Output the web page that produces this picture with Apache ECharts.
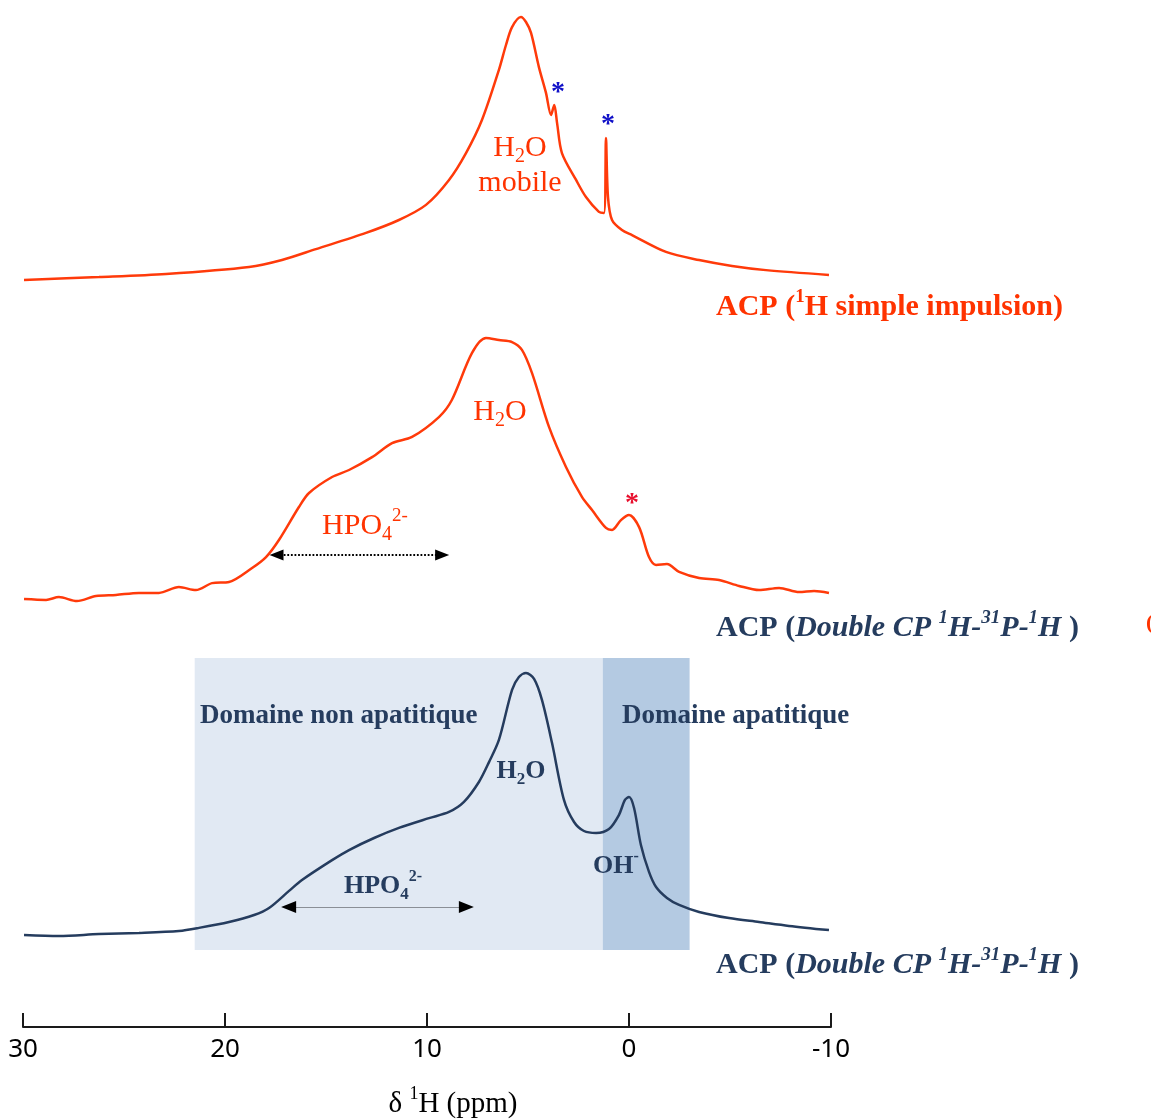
<!DOCTYPE html>
<html>
<head>
<meta charset="utf-8">
<script src="https://cdn.jsdelivr.net/npm/echarts@6/dist/echarts.min.js"></script>
<style>
html,body{margin:0;padding:0;background:#fff;}
#chart{width:1151px;height:1120px;}
</style>
</head>
<body>
<div id="chart"></div>
<script>
// ---- axis ----
const xTicks = [30, 20, 10, 0, -10];

// ---- spectrum 1 : ACP (1H simple impulsion) ----
const spec1Ppm = [29.95,26.24,22.92,18.81,17.18,15.50,13.02,11.39,10.05,8.91,8.07,7.28,6.44,6.09,5.79,5.35,5.10,4.85,4.46,4.11,3.86,3.70,3.56,3.32,2.62,2.13,1.49,1.24,1.14,1.04,0.84,0.35,-0.15,-1.83,-3.47,-5.10,-6.78,-9.90];
const spec1Int = [3.6,4.6,5.7,8.2,10.7,14.6,20.4,25.0,30.4,39.3,48.9,60.7,78.6,87.5,93.9,97.5,95.7,91.8,79.6,70.4,62.5,66.1,59.6,48.9,39.3,33.2,27.9,27.5,54.3,33.2,25.0,21.4,19.6,13.6,10.7,8.6,7.1,5.4];

// ---- spectrum 2 : ACP (Double CP 1H-31P-1H) ----
const spec2Ppm = [29.95,28.86,28.22,27.33,26.39,25.40,24.26,23.27,22.28,21.44,20.64,19.80,18.66,17.97,17.33,16.34,15.84,14.70,13.86,12.72,11.73,10.74,9.41,8.77,7.77,7.08,6.44,5.79,5.30,4.80,3.96,3.12,2.33,1.83,1.14,0.84,0.40,0.00,-0.50,-0.99,-1.34,-1.88,-2.48,-3.47,-4.46,-5.45,-6.44,-7.43,-8.42,-9.16,-9.90];
const spec2Int = [3.9,3.6,4.6,3.2,5.0,5.4,6.1,6.1,8.2,7.1,9.6,10.0,15.0,18.9,25.0,36.8,41.8,47.5,50.0,54.6,59.6,61.8,68.9,75.0,91.8,97.1,96.4,95.7,92.9,84.6,65.4,51.1,40.4,35.7,29.3,28.6,32.1,33.9,29.6,18.9,16.1,16.4,13.6,11.4,10.7,8.6,7.1,7.9,6.4,6.8,6.1];

// ---- spectrum 3 : ACP (Double CP 1H-31P-1H), with domains ----
const spec3Ppm = [29.95,28.22,26.24,24.26,22.28,21.29,19.80,18.56,17.82,16.83,16.19,14.70,13.86,12.62,11.39,9.90,8.91,8.17,7.43,6.93,6.44,5.79,5.45,5.10,4.70,4.31,3.81,3.22,2.72,2.23,1.63,0.99,0.50,0.20,0.00,-0.25,-0.59,-0.99,-1.34,-1.88,-2.48,-3.47,-4.95,-6.44,-7.92,-9.90];
const spec3Int = [5.4,5.0,5.7,6.1,6.8,7.9,10.0,12.5,15.0,21.1,25.0,32.1,35.7,40.0,43.6,47.1,49.3,52.9,60.0,67.1,75.0,92.9,97.5,98.9,96.8,89.3,73.9,53.6,45.7,42.5,41.8,43.2,48.2,53.6,54.6,50.7,37.5,27.9,22.5,18.6,16.1,13.6,11.4,10.0,8.6,7.1];

// domain ranges (ppm) and vertical extent (intensity units)
const domainNonApatitique = [21.5, 1.3];
const domainApatitique = [1.3, -3.0];
const domainHeight = [0, 104.3];

// HPO4 range arrows: [from ppm, to ppm, height]
const hpoArrow2 = [17.45, 9.25, 19.6];
const hpoArrow3 = [16.85, 8.05, 15.4];

const ORANGE = '#FF3A0A';
const ORANGE_T = '#FF3300';
const NAVY = '#253C5E';
const SERIF = 'Liberation Serif';

function pairs(a, b){ return a.map((v,i)=>[v,b[i]]); }

const xMin = Math.min(...xTicks), xMax = Math.max(...xTicks);
function xAx(idx, show){
  return {
    gridIndex: idx, type: 'value', inverse: true, min: xMin, max: xMax, interval: 10,
    show: show,
    axisLine: {show: show, onZero: false, lineStyle: {color: '#1a1a1a', width: 2}},
    axisTick: {show: show, inside: true, length: 14, lineStyle: {color: '#1a1a1a', width: 2}},
    axisLabel: {show: show, margin: 10, fontSize: 26, fontFamily: 'Noto Sans', color: '#000'},
    splitLine: {show: false}
  };
}
function yAx(idx, min, max){
  return {gridIndex: idx, type: 'value', min: min, max: max, show: false, splitLine: {show: false}};
}

const lineCommon = {type: 'line', showSymbol: false, smooth: 0.3, silent: true, z: 3};

function txt(x, y, text, rich, opts){
  opts = opts || {};
  return {
    type: 'text', x: x, y: y, z: 10, silent: true,
    style: Object.assign({
      text: text, rich: rich,
      align: opts.align || 'center', textAlign: opts.align || 'center',
      verticalAlign: 'middle', textVerticalAlign: 'middle'
    }, opts.style || {})
  };
}
function richSet(color, size, weight){
  const lh = size + 8;
  const base = {fill: color, fontFamily: SERIF, fontSize: size, fontWeight: weight, lineHeight: lh};
  const ss = Math.round(size*0.62);
  return {
    n: Object.assign({}, base),
    i: Object.assign({}, base, {fontStyle: 'italic'}),
    sub: Object.assign({}, base, {fontSize: Math.round(size*0.66), lineHeight: Math.round(size*0.66)+2, verticalAlign: 'bottom'}),
    sup: Object.assign({}, base, {fontSize: ss, lineHeight: lh - 12, verticalAlign: 'top'}),
    supi: Object.assign({}, base, {fontStyle: 'italic', fontSize: ss, lineHeight: lh - 12, verticalAlign: 'top'})
  };
}

const chart = echarts.init(document.getElementById('chart'), null, {renderer: 'canvas'});

const option = {
  animation: false,
  backgroundColor: '#fff',
  grid: [
    {left: 23, right: 320, top: 10, height: 280},
    {left: 23, right: 320, top: 330, height: 280},
    {left: 23, right: 320, top: 650, height: 377}
  ],
  xAxis: [xAx(0, false), xAx(1, false), xAx(2, true)],
  yAxis: [yAx(0, 0, 100), yAx(1, 0, 100), yAx(2, -27.5, 107.14)],
  series: [
    {
      type: 'line', xAxisIndex: 2, yAxisIndex: 2, data: [], silent: true, z: 1,
      markArea: {
        silent: true,
        data: [
          [{xAxis: domainNonApatitique[0], yAxis: domainHeight[0], itemStyle: {color: '#E1E9F3'}},
           {xAxis: domainNonApatitique[1], yAxis: domainHeight[1]}],
          [{xAxis: domainApatitique[0], yAxis: domainHeight[0], itemStyle: {color: '#B4CAE2'}},
           {xAxis: domainApatitique[1], yAxis: domainHeight[1]}]
        ]
      }
    },
    Object.assign({}, lineCommon, {
      name: 'ACP 1H simple impulsion', xAxisIndex: 0, yAxisIndex: 0,
      data: pairs(spec1Ppm, spec1Int),
      lineStyle: {color: ORANGE, width: 2.5}
    }),
    Object.assign({}, lineCommon, {
      name: 'ACP Double CP (1)', xAxisIndex: 1, yAxisIndex: 1,
      data: pairs(spec2Ppm, spec2Int),
      lineStyle: {color: ORANGE, width: 2.5},
      markLine: {
        silent: true, symbol: ['triangle', 'triangle'], symbolSize: [11, 14],
        label: {show: false},
        lineStyle: {type: 'dotted', color: '#000', width: 1.8},
        data: [[{coord: [hpoArrow2[0], hpoArrow2[2]]}, {coord: [hpoArrow2[1], hpoArrow2[2]]}]]
      }
    }),
    Object.assign({}, lineCommon, {
      name: 'ACP Double CP (2)', xAxisIndex: 2, yAxisIndex: 2,
      data: pairs(spec3Ppm, spec3Int),
      lineStyle: {color: NAVY, width: 2.5},
      markLine: {
        silent: true, symbolSize: [12, 15],
        label: {show: false},
        data: [
          // thin grey shaft
          [{coord: [hpoArrow3[0], hpoArrow3[2]], symbol: 'none', lineStyle: {color: '#8a8f96', width: 1, type: 'solid'}},
           {coord: [hpoArrow3[1], hpoArrow3[2]], symbol: 'none'}],
          // black heads
          [{coord: [hpoArrow3[0], hpoArrow3[2]], symbol: 'triangle', lineStyle: {color: '#000', width: 1, type: 'solid'}},
           {coord: [hpoArrow3[0] - 0.05, hpoArrow3[2]], symbol: 'none'}],
          [{coord: [hpoArrow3[1] + 0.05, hpoArrow3[2]], symbol: 'none', lineStyle: {color: '#000', width: 1, type: 'solid'}},
           {coord: [hpoArrow3[1], hpoArrow3[2]], symbol: 'triangle'}]
        ]
      }
    })
  ],
  graphic: [
    // top spectrum labels
    txt(520, 148, '{n|H}{sub|2}{n|O}', richSet(ORANGE_T, 30, 'normal')),
    txt(520, 183, '{n|mobile}', richSet(ORANGE_T, 30, 'normal')),
    txt(558, 93, '{n|*}', richSet('#1010C8', 28, 'bold')),
    txt(608, 125, '{n|*}', richSet('#1010C8', 28, 'bold')),
    txt(716, 307, '{n|ACP (}{sup|1}{n|H simple impulsion)}', richSet(ORANGE_T, 30, 'bold'), {align: 'left'}),
    // middle spectrum labels
    txt(500, 412, '{n|H}{sub|2}{n|O}', richSet(ORANGE_T, 30, 'normal')),
    txt(632, 504, '{n|*}', richSet('#E8102E', 28, 'bold')),
    txt(365, 526, '{n|HPO}{sub|4}{sup|2-}', richSet(ORANGE_T, 30, 'normal')),
    txt(716, 628, '{n|ACP (}{i|Double CP }{supi|1}{i|H-}{supi|31}{i|P-}{supi|1}{i|H }{n|)}', richSet(NAVY, 30, 'bold'), {align: 'left'}),
    txt(1146, 623, '{n|(}', richSet(ORANGE_T, 22, 'bold'), {align: 'left'}),
    // bottom spectrum labels
    txt(200, 716, '{n|Domaine non apatitique}', richSet(NAVY, 27, 'bold'), {align: 'left'}),
    txt(622, 716, '{n|Domaine apatitique}', richSet(NAVY, 27, 'bold'), {align: 'left'}),
    txt(521, 771, '{n|H}{sub|2}{n|O}', richSet(NAVY, 26, 'bold')),
    txt(616, 866, '{n|OH}{sup|-}', richSet(NAVY, 26, 'bold')),
    txt(383, 886, '{n|HPO}{sub|4}{sup|2-}', richSet(NAVY, 26, 'bold')),
    txt(716, 965, '{n|ACP (}{i|Double CP }{supi|1}{i|H-}{supi|31}{i|P-}{supi|1}{i|H }{n|)}', richSet(NAVY, 30, 'bold'), {align: 'left'}),
    // axis name
    txt(453, 1104, '{n|δ }{sup|1}{n|H (ppm)}', richSet('#000', 29, 'normal'))
  ]
};
chart.setOption(option);
</script>
</body>
</html>
